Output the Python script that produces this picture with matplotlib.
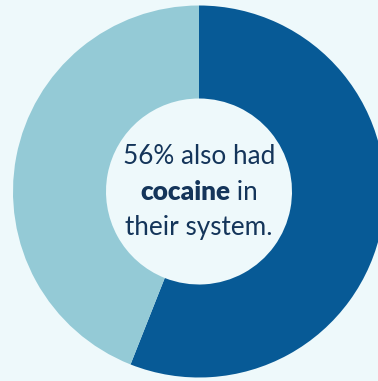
import matplotlib
matplotlib.use("Agg")
import matplotlib.pyplot as plt

# Share of cases that also involved cocaine
labels = ["Cocaine", "No cocaine"]
shares = [56, 44]
colors = ["#075a96", "#94cad6"]
bg = "#eef9fb"
text_color = "#14355a"

W, H = 378, 381
fig = plt.figure(figsize=(W / 100, H / 100), dpi=100, facecolor=bg)
ax = fig.add_axes([0, 0, 1, 1])
ax.set_facecolor(bg)

cx, cy, r = 199, 189.5, 186
ax.pie(shares, colors=colors, startangle=90, counterclock=False,
       radius=r, center=(cx, cy), frame=True,
       wedgeprops=dict(width=r * 0.5, linewidth=0))
ax.set_xlim(0, W)
ax.set_ylim(0, H)
ax.set_aspect("equal")
ax.axis("off")

font = "Lato"
fs = 18.8
ax.text(cx, H - 157, f"{shares[0]}% also had", ha="center", va="center",
        fontsize=fs, family=font, color=text_color)
ax.text(cx, H - 227, "their system.", ha="center", va="center",
        fontsize=fs, family=font, color=text_color)

# Middle line mixes a bold word with regular text
fig.canvas.draw()
renderer = fig.canvas.get_renderer()
t_bold = ax.text(0, H - 192, "cocaine", ha="left", va="center",
                 fontsize=fs, family=font, weight="heavy", color=text_color)
t_reg = ax.text(0, H - 192, " in", ha="left", va="center",
                fontsize=fs, family=font, color=text_color)
wb = t_bold.get_window_extent(renderer).width
wr = t_reg.get_window_extent(renderer).width
x0 = cx - (wb + wr) / 2
t_bold.set_x(x0)
t_reg.set_x(x0 + wb)

fig.savefig("out.png", dpi=100, facecolor=bg)
